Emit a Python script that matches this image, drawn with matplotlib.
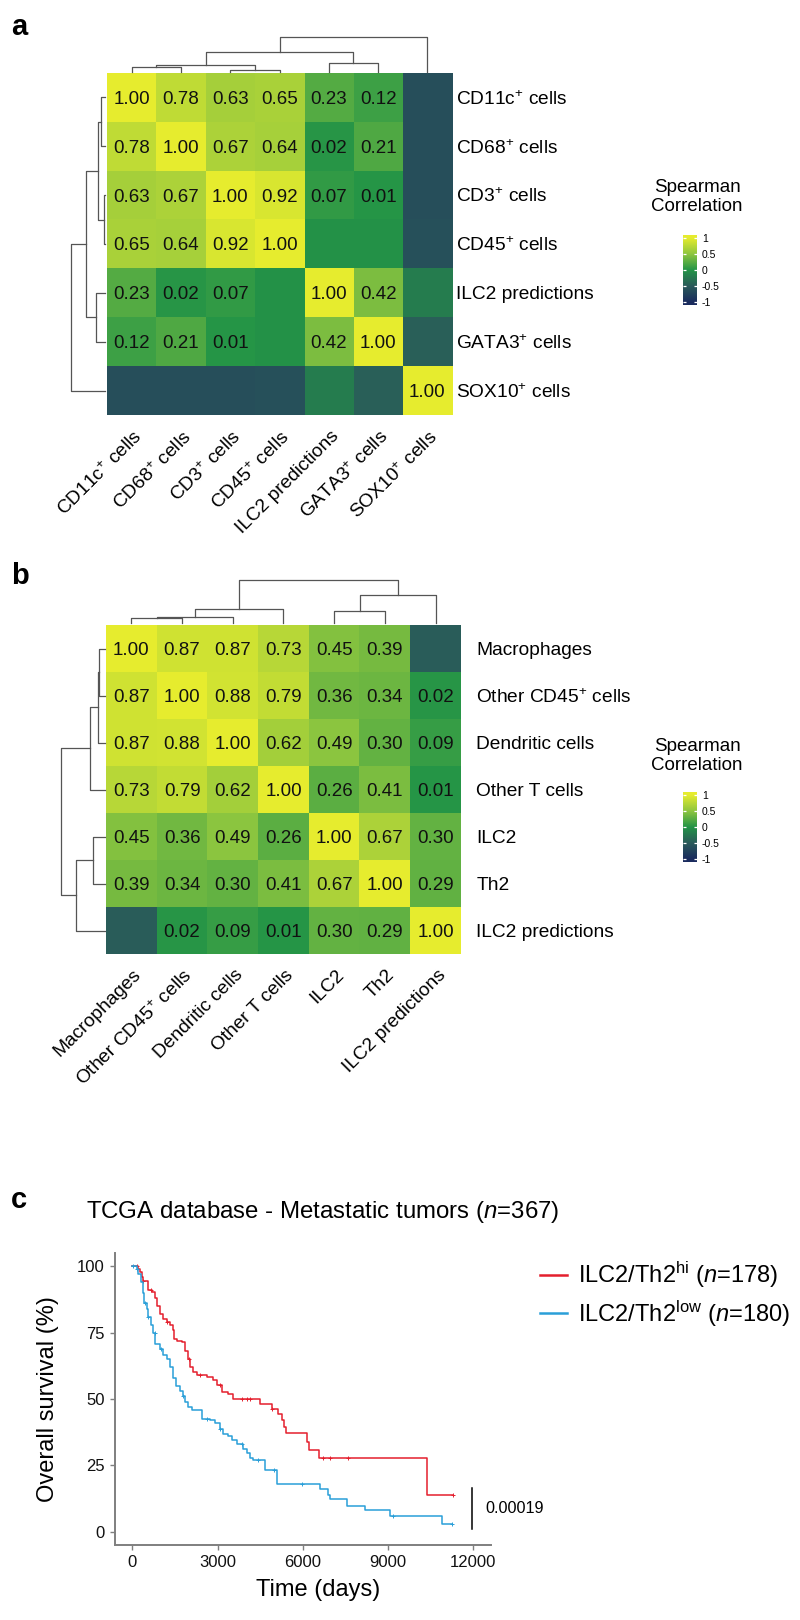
import numpy as np
import matplotlib
matplotlib.use("Agg")
import matplotlib.pyplot as plt
from matplotlib.colors import LinearSegmentedColormap
from matplotlib.lines import Line2D

plt.rcParams['font.family'] = ['Liberation Sans', 'DejaVu Sans']
plt.rcParams['mathtext.fontset'] = 'custom'
plt.rcParams['mathtext.rm'] = 'Liberation Sans'
plt.rcParams['mathtext.it'] = 'Liberation Sans:italic'

W, H = 800, 1620

# ---- panel a data ----
a_labels = [r"CD11c$^{\mathregular{+}}$ cells", r"CD68$^{\mathregular{+}}$ cells",
            r"CD3$^{\mathregular{+}}$ cells", r"CD45$^{\mathregular{+}}$ cells",
            "ILC2 predictions", r"GATA3$^{\mathregular{+}}$ cells",
            r"SOX10$^{\mathregular{+}}$ cells"]
a_corr = np.array([
    [1.00, 0.78, 0.63, 0.65, 0.23, 0.12, -0.62],
    [0.78, 1.00, 0.67, 0.64, 0.02, 0.21, -0.62],
    [0.63, 0.67, 1.00, 0.92, 0.07, 0.01, -0.62],
    [0.65, 0.64, 0.92, 1.00, -0.02, -0.02, -0.60],
    [0.23, 0.02, 0.07, -0.02, 1.00, 0.42, -0.20],
    [0.12, 0.21, 0.01, -0.02, 0.42, 1.00, -0.45],
    [-0.62, -0.62, -0.62, -0.60, -0.20, -0.45, 1.00],
])
# merges: (left, right, height)
a_links = [(2, 3, 3.0), (0, 1, 6.0), (8, 7, 8.5), (4, 5, 10.5), (9, 10, 21.0), (11, 6, 36.5)]

# ---- panel b data ----
b_labels = ["Macrophages", r"Other CD45$^{\mathregular{+}}$ cells", "Dendritic cells",
            "Other T cells", "ILC2", "Th2", "ILC2 predictions"]
b_corr = np.array([
    [1.00, 0.87, 0.87, 0.73, 0.45, 0.39, -0.48],
    [0.87, 1.00, 0.88, 0.79, 0.36, 0.34, 0.02],
    [0.87, 0.88, 1.00, 0.62, 0.49, 0.30, 0.09],
    [0.73, 0.79, 0.62, 1.00, 0.26, 0.41, 0.01],
    [0.45, 0.36, 0.49, 0.26, 1.00, 0.67, 0.30],
    [0.39, 0.34, 0.30, 0.41, 0.67, 1.00, 0.29],
    [-0.48, 0.02, 0.09, 0.01, 0.30, 0.29, 1.00],
])
b_links = [(0, 1, 7.0), (7, 2, 8.3), (8, 3, 16.0), (4, 5, 13.5), (10, 6, 30.0), (9, 11, 45.0)]

cbar_ticks = [-1, -0.5, 0, 0.5, 1]
cbar_ticklabels = ["-1", "-0.5", "0", "0.5", "1"]

# ---- panel c data (Kaplan-Meier, % survival) ----
hi_t = [0, 211, 270, 328, 387, 563, 680, 798, 880, 974, 1067, 1208, 1326, 1419, 1466, 1560,
        1736, 1853, 1971, 2029, 2147, 2264, 2616, 2850, 2968, 3144, 3378, 3554, 4493, 4903,
        5138, 5255, 5337, 5408, 6135, 6229, 6580, 10358, 11296]
hi_s = [100, 99, 98, 96, 94.6, 91, 90.2, 88, 85.2, 82, 80.2, 79, 78, 76, 72.7, 72,
        71.4, 68, 65, 62, 60, 58.9, 58.3, 57, 55.1, 52.6, 52, 50.1, 48.2, 46.4,
        44.2, 42, 39.5, 37.3, 33.8, 30.7, 27.8, 13.8, 13.8]
hi_cens = [152, 387, 657, 1208, 2006, 2381, 3085, 3848, 4023, 4141, 4903, 6698, 6956, 7601, 11296]

lo_t = [0, 152, 211, 293, 364, 422, 504, 563, 645, 716, 809, 974, 1091, 1208, 1326, 1419,
        1537, 1677, 1795, 1853, 1971, 2088, 2440, 2733, 2909, 3085, 3202, 3378, 3496, 3672,
        3906, 4023, 4141, 4258, 4669, 5079, 6604, 6897, 6956, 7543, 8188, 9068, 10886, 11238]
lo_s = [100, 99, 97, 94, 90, 86, 84, 81, 78, 75, 70.8, 69, 66.4, 65, 62, 58,
        55, 53, 51, 49, 47, 45.7, 42.5, 42, 41, 38.8, 37, 36, 34.5, 33.2,
        31.3, 29.5, 27.6, 27, 23.2, 17.9, 16, 14, 12.2, 9.8, 8.1, 5.9, 2.9, 2.9]
lo_cens = [35, 152, 446, 563, 798, 997, 1795, 2616, 3085, 3848, 4434, 4985, 5959, 9185, 11238]

x_ticks = [0, 3000, 6000, 9000, 12000]
y_ticks = [0, 25, 50, 75, 100]
p_value = "0.00019"

cmap = LinearSegmentedColormap.from_list(
    "spear", [(0.0, "#1a2b5e"), (0.25, "#2a5a5a"), (0.5, "#239447"),
              (0.75, "#8ec63f"), (1.0, "#e6ec2e")])

fig = plt.figure(figsize=(W / 100, H / 100), dpi=100)


def rect(x0, y0, x1, y1):
    return [x0 / W, 1 - y1 / H, (x1 - x0) / W, (y1 - y0) / H]


def heatmap(box, mat, labels, row_gap):
    ax = fig.add_axes(rect(*box))
    n = len(labels)
    ax.imshow(mat, cmap=cmap, vmin=-1, vmax=1, aspect='auto',
              interpolation='nearest', extent=(0, n, n, 0))
    for i in range(n):
        for j in range(n):
            if mat[i, j] >= 0:
                ax.text(j + 0.5, i + 0.5, f"{mat[i, j]:.2f}", ha='center',
                        va='center_baseline', fontsize=13.5, color='#111111')
    ax.set_xlim(0, n)
    ax.set_ylim(n, 0)
    ax.axis('off')
    for i, lab in enumerate(labels):
        ax.annotate(lab, xy=(1, 1 - (i + 0.5) / n), xycoords='axes fraction',
                    xytext=(row_gap, 0), textcoords='offset points',
                    ha='left', va='center_baseline', fontsize=13.8)
        ax.annotate(lab, xy=((i + 0.5) / n, 0), xycoords='axes fraction',
                    xytext=(1, -9), textcoords='offset points', rotation=45,
                    rotation_mode='anchor', ha='right', va='top', fontsize=13.8)
    return ax


def dendro(box, links, n, side):
    ax = fig.add_axes(rect(*box))
    pos = {i: i + 0.5 for i in range(n)}
    hts = {i: 1.5 for i in range(n)}
    top = max(h for _, _, h in links)
    for k, (l, r, h) in enumerate(links):
        xs = [pos[l], pos[l], pos[r], pos[r]]
        ys = [hts[l], h, h, hts[r]]
        if side == 'top':
            ax.plot(xs, ys, color='#555555', lw=0.9, clip_on=False)
        else:
            ax.plot(ys, xs, color='#555555', lw=0.9, clip_on=False)
        pos[n + k] = (pos[l] + pos[r]) / 2
        hts[n + k] = h
    if side == 'top':
        ax.set_xlim(0, n)
        ax.set_ylim(0, top)
    else:
        ax.set_ylim(n, 0)
        ax.set_xlim(top, 0)
    ax.axis('off')


def colorbar(title_y, y0, y1):
    fig.text(697 / W, 1 - title_y / H, "Spearman\nCorrelation", ha='center',
             va='center', fontsize=13.5, linespacing=1.15)
    cax = fig.add_axes(rect(683, y0, 697, y1))
    grad = np.linspace(-1.1, 1.1, 256).reshape(-1, 1)
    cax.imshow(grad, cmap=cmap, vmin=-1, vmax=1, aspect='auto', origin='lower',
               extent=(0, 1, -1.1, 1.1))
    cax.set_ylim(-1.08, 1.08)
    cax.set_xticks([])
    cax.yaxis.tick_right()
    cax.set_yticks(cbar_ticks)
    cax.set_yticklabels(cbar_ticklabels)
    cax.tick_params(axis='y', direction='in', length=2.5, width=0.9, color='white',
                    left=True, right=True, labelsize=7.5, pad=3.5)
    for s in cax.spines.values():
        s.set_visible(False)


# panel a
fig.text(11 / W, 1 - 35 / H, "a", fontsize=21, fontweight='bold')
heatmap((107, 73, 452, 415), a_corr, a_labels, 3)
dendro((107, 73 - 36.5, 452, 73), a_links, 7, 'top')
dendro((107 - 36.5, 73, 107, 415), a_links, 7, 'left')
colorbar(197, 235, 305)

# panel b
fig.text(11 / W, 1 - 584 / H, "b", fontsize=21, fontweight='bold')
heatmap((106, 625, 461, 954), b_corr, b_labels, 11)
dendro((106, 625 - 45, 461, 625), b_links, 7, 'top')
dendro((106 - 45, 625, 106, 954), b_links, 7, 'left')
colorbar(756, 792, 862)

# panel c
fig.text(11 / W, 1 - 1208 / H, "c", fontsize=21, fontweight='bold')
fig.text(86 / W, 1 - 1218 / H, r"TCGA database - Metastatic tumors ($\mathit{n}$=367)",
         fontsize=17.3, va='baseline')

ax = fig.add_axes(rect(115, 1253, 491, 1545))
red, blue = "#e41f2d", "#2a9fd8"
for t, s, cens, col in [(hi_t, hi_s, hi_cens, red), (lo_t, lo_s, lo_cens, blue)]:
    ax.step(t, s, where='post', color=col, lw=1.1)
    idx = np.searchsorted(t, cens, side='right') - 1
    ax.plot(cens, np.array(s)[idx], '+', color=col, ms=3.5, mew=0.7)

ax.plot([11950, 11950], [1, 16.5], color='black', lw=1.1)
ax.text(12420, 8.8, p_value, fontsize=11.7, ha='left', va='center')

ax.set_xlim(-610, 12620)
ax.set_ylim(-5, 105)
ax.set_xticks(x_ticks)
ax.set_yticks(y_ticks)
ax.tick_params(labelsize=12, color='#7f7f7f', length=3.5, width=1, pad=4, labelcolor='#111111')
for s in ['top', 'right']:
    ax.spines[s].set_visible(False)
for s in ['left', 'bottom']:
    ax.spines[s].set_color('#7f7f7f')
    ax.spines[s].set_linewidth(1.4)

fig.text(318 / W, 1 - 1590 / H, "Time (days)", fontsize=17, ha='center', va='center')
fig.text(48 / W, 1 - 1399 / H, "Overall survival (%)", fontsize=17, ha='center',
         va='center', rotation=90)

handles = [Line2D([], [], color=red, lw=1.8), Line2D([], [], color=blue, lw=1.8)]
labels = [r"ILC2/Th2$^{\mathregular{hi}}$ ($\mathit{n}$=178)",
          r"ILC2/Th2$^{\mathregular{low}}$ ($\mathit{n}$=180)"]
fig.legend(handles, labels, loc='upper left', bbox_to_anchor=(540 / W, 1 - 1260 / H),
           frameon=False, fontsize=17, handlelength=1.15, handletextpad=0.45,
           labelspacing=0.35, borderpad=0, borderaxespad=0)

fig.savefig("out.png", dpi=100)
